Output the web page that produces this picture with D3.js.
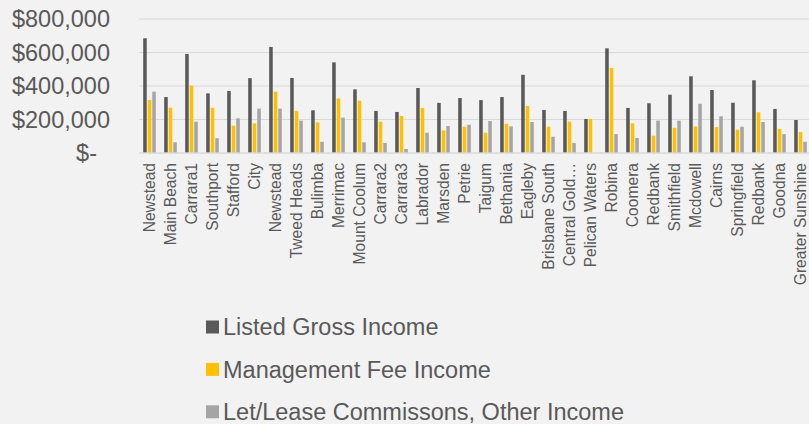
<!DOCTYPE html>
<html>
<head>
<meta charset="utf-8">
<script src="https://cdn.jsdelivr.net/npm/d3@7"></script>
<style>
body { margin:0; background:#f2f2f2; }
svg { display:block; background:#f2f2f2; font-family:"Liberation Sans", Arial, sans-serif; }
</style>
</head>
<body>
<svg id="chart"></svg>
<script>
var suburbs = ["Newstead","Main Beach","Carrara1","Southport","Stafford","City","Newstead","Tweed Heads",
	"Bulimba","Merrimac","Mount Coolum","Carrara2","Carrara3","Labrador","Marsden","Petrie","Taigum",
	"Bethania","Eagleby","Brisbane South","Central Gold\u2026","Pelican Waters","Robina","Coomera","Redbank",
	"Smithfield","Mcdowell","Cairns","Springfield","Redbank","Goodna","Greater Sunshine"]

var seriesNames = ["Listed Gross Income","Management Fee Income","Let/Lease Commissons, Other Income"]
var seriesColors = ["#595959","#ffc000","#a5a5a5"]

var grossIncome = [685000,334000,591000,356000,370000,447000,633000,448000,255000,541000,380000,251000,
	245000,388000,299000,328000,316000,334000,467000,257000,251000,203000,625000,269000,297000,348000,
	458000,376000,300000,434000,263000,197000]
var mgmtFee = [316000,270000,402000,270000,163000,177000,366000,251000,183000,326000,312000,187000,
	221000,269000,135000,157000,121000,175000,281000,157000,187000,203000,507000,177000,103000,151000,
	159000,155000,139000,243000,143000,125000]
var otherIncome = [366000,64000,187000,88000,207000,265000,265000,193000,67000,211000,64000,60000,
	24000,121000,161000,169000,191000,159000,185000,97000,60000,0,113000,90000,193000,193000,
	294000,219000,157000,185000,113000,67000]

var yTicks = [0,200000,400000,600000,800000]

var screen = {width:809, height:424}
var plot = {left:139, right:811, top:19, bottom:153}

//-------rows for the bars-------
var rows = suburbs.map(function(s,i)
{
	return {idx:i, name:s, values:[grossIncome[i], mgmtFee[i], otherIncome[i]]}
})

var svg = d3.select("#chart")
	.attr("width",screen.width)
	.attr("height",screen.height)

var xScale = d3.scaleBand()
	.domain(d3.range(suburbs.length))
	.range([plot.left, plot.right])
	.paddingInner(0.4)
	.paddingOuter(0.2)

var xInner = d3.scaleBand()
	.domain([0,1,2])
	.range([0, xScale.bandwidth()])
	.paddingInner(0.22)

var yScale = d3.scaleLinear()
	.domain([0,800000])
	.range([plot.bottom, plot.top])

//---------gridlines---------
svg.append("g")
	.selectAll("line")
	.data(yTicks.slice(1))
	.enter()
	.append("line")
	.attr("x1",plot.left)
	.attr("x2",screen.width)
	.attr("y1",function(d){ return yScale(d) })
	.attr("y2",function(d){ return yScale(d) })
	.attr("stroke","#d9d9d9")
	.attr("stroke-width",1)

//---------bars---------
var groups = svg.append("g")
	.selectAll("g")
	.data(rows)
	.enter()
	.append("g")
	.attr("transform",function(d){ return "translate(" + xScale(d.idx) + ",0)" })

groups.selectAll("rect")
	.data(function(d){ return d.values })
	.enter()
	.append("rect")
	.attr("x",function(v,j){ return xInner(j) })
	.attr("y",function(v){ return yScale(v) })
	.attr("width",xInner.bandwidth())
	.attr("height",function(v){ return plot.bottom - yScale(v) })
	.attr("fill",function(v,j){ return seriesColors[j] })

//---------x axis line---------
svg.append("line")
	.attr("x1",plot.left)
	.attr("x2",screen.width)
	.attr("y1",plot.bottom)
	.attr("y2",plot.bottom)
	.attr("stroke","#d9d9d9")
	.attr("stroke-width",1.5)

//---------x labels---------
var xAxis = d3.axisBottom(xScale)
	.tickSize(0)
	.tickFormat(function(i){ return suburbs[i] })

var xg = svg.append("g")
	.attr("transform","translate(0," + plot.bottom + ")")
	.call(xAxis)
xg.select(".domain").remove()
xg.selectAll("text")
	.attr("transform","rotate(-90)")
	.attr("x",-10)
	.attr("y",0)
	.attr("dy","0.35em")
	.attr("text-anchor","end")
	.attr("fill","#595959")
	.style("font-size","15.6px")
	.style("font-family","\"Liberation Sans\", Arial, sans-serif")

//---------y axis---------
var yAxis = d3.axisLeft(yScale)
	.tickValues(yTicks)
	.tickSize(0)
	.tickPadding(29)
	.tickFormat(function(d){ return d == 0 ? "$-" : "$" + d3.format(",")(d) })

var yg = svg.append("g")
	.attr("transform","translate(" + plot.left + ",0)")
	.call(yAxis)
yg.select(".domain").remove()
yg.selectAll("text")
	.attr("fill","#595959")
	.style("font-size","23.5px")
	.style("font-family","\"Liberation Sans\", Arial, sans-serif")
	.attr("dx",function(d){ return d == 0 ? -13 : 0 })

//---------legend---------
var legend = svg.append("g")
	.selectAll("g")
	.data(seriesNames)
	.enter()
	.append("g")
	.attr("transform",function(d,i){ return "translate(206," + (327 + i*42.4) + ")" })

legend.append("rect")
	.attr("x",0)
	.attr("y",-6.5)
	.attr("width",13)
	.attr("height",13)
	.attr("fill",function(d,i){ return seriesColors[i] })

legend.append("text")
	.attr("x",17)
	.attr("y",0)
	.attr("dy","0.35em")
	.attr("fill","#595959")
	.style("font-size","23.5px")
	.text(function(d){ return d })
</script>
</body>
</html>
